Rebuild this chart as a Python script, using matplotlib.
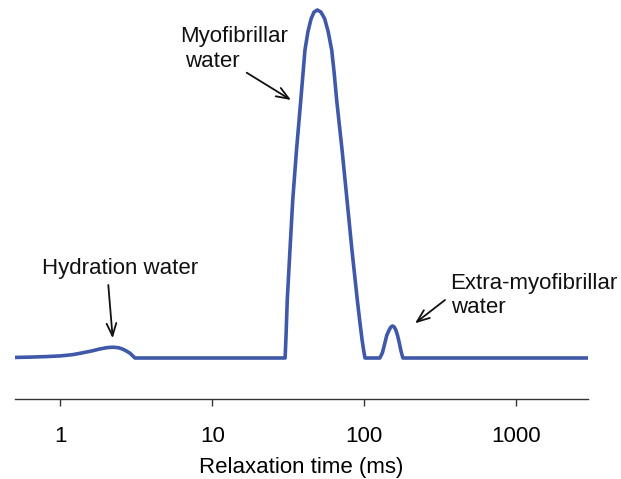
import numpy as np
import matplotlib
matplotlib.use('Agg')
import matplotlib.pyplot as plt

plt.rcParams['font.family'] = ['Liberation Sans', 'DejaVu Sans']

# T2 relaxation time (ms) and amplitude (main peak = 100)
time_ms = [0.49, 0.63, 0.8, 1.0, 1.2, 1.35, 1.6, 1.82, 2.05, 2.22, 2.42, 2.59,
           2.75, 2.88, 3.0, 3.1,
           30.2, 30.6, 31.2, 32.5, 33.9, 35.9, 38.3, 40.8, 42.7, 44.8, 46.8,
           49.2, 52.0, 55.0, 58.0, 61.2, 63.5, 66.0, 71.6, 77.2, 83.2, 90.2,
           94.0, 97.0, 99.5, 101.4,
           127, 132, 137, 141, 146, 150, 154, 158, 162, 166, 170, 175, 180,
           2980]
amplitude = [0.15, 0.25, 0.4, 0.6, 0.95, 1.35, 2.0, 2.6, 3.0, 3.1, 2.95, 2.5,
             1.9, 1.35, 0.6, 0.0,
             0.0, 6.0, 16.7, 31.0, 45.4, 59.8, 74.1, 88.5, 93.8, 97.5, 99.4,
             100.0, 99.4, 97.5, 93.8, 88.5, 82.0, 74.1, 59.8, 45.4, 31.0, 16.7,
             10.0, 5.2, 2.0, 0.0,
             0.0, 1.5, 4.3, 6.5, 8.0, 8.9, 9.2, 8.9, 8.0, 6.5, 4.6, 2.0, 0.0,
             0.0]

tick_vals = [1, 10, 100, 1000]
tick_labels = ['1', '10', '100', '1000']

W, H = 621, 479
fig = plt.figure(figsize=(W / 100, H / 100), dpi=100)
ax = fig.add_axes([15 / W, (H - 398.6) / H, 573 / W, 398.6 / H])

ax.plot(time_ms, amplitude, color='#3f58a8', lw=2.6,
        solid_joinstyle='round', solid_capstyle='round')

ax.set_xscale('log')
ax.set_xlim(0.503, 2980)
ax.set_ylim(-(398.6 - 358) / 3.48, 100 + 10 / 3.48)
ax.set_xticks(tick_vals)
ax.set_xticklabels(tick_labels)
ax.minorticks_off()
ax.set_yticks([])
for s in ['top', 'left', 'right']:
    ax.spines[s].set_visible(False)
ax.spines['bottom'].set_color('#333333')
ax.spines['bottom'].set_linewidth(1.0)
ax.tick_params(axis='x', direction='out', length=5, width=1, color='#333333',
               pad=15, labelsize=16)
ax.set_xlabel('Relaxation time (ms)', fontsize=16, labelpad=7)


def px(x, y):
    return x / W, (H - y) / H


fs = 16
for txt, x, y in [('Myofibrillar', 180, 41.7), ('water', 185, 66.7),
                  ('Hydration water', 42, 274),
                  ('Extra-myofibrillar', 450, 289), ('water', 450.7, 312.7)]:
    fig.text(*px(x, y), txt, fontsize=fs, va='baseline', ha='left', color='#111111')

arrow = dict(arrowstyle='->,head_length=0.9,head_width=0.35', color='#111111', lw=1.3,
             shrinkA=0, shrinkB=0)
for tail, head in [((246.7, 72.7), (291, 100)),
                   ((108.3, 285), (112.7, 338.3)),
                   ((445, 300), (415, 323.3))]:
    ax.annotate('', xy=px(*head), xycoords='figure fraction',
                xytext=px(*tail), textcoords='figure fraction', arrowprops=arrow)

fig.savefig('out.png', dpi=100)
